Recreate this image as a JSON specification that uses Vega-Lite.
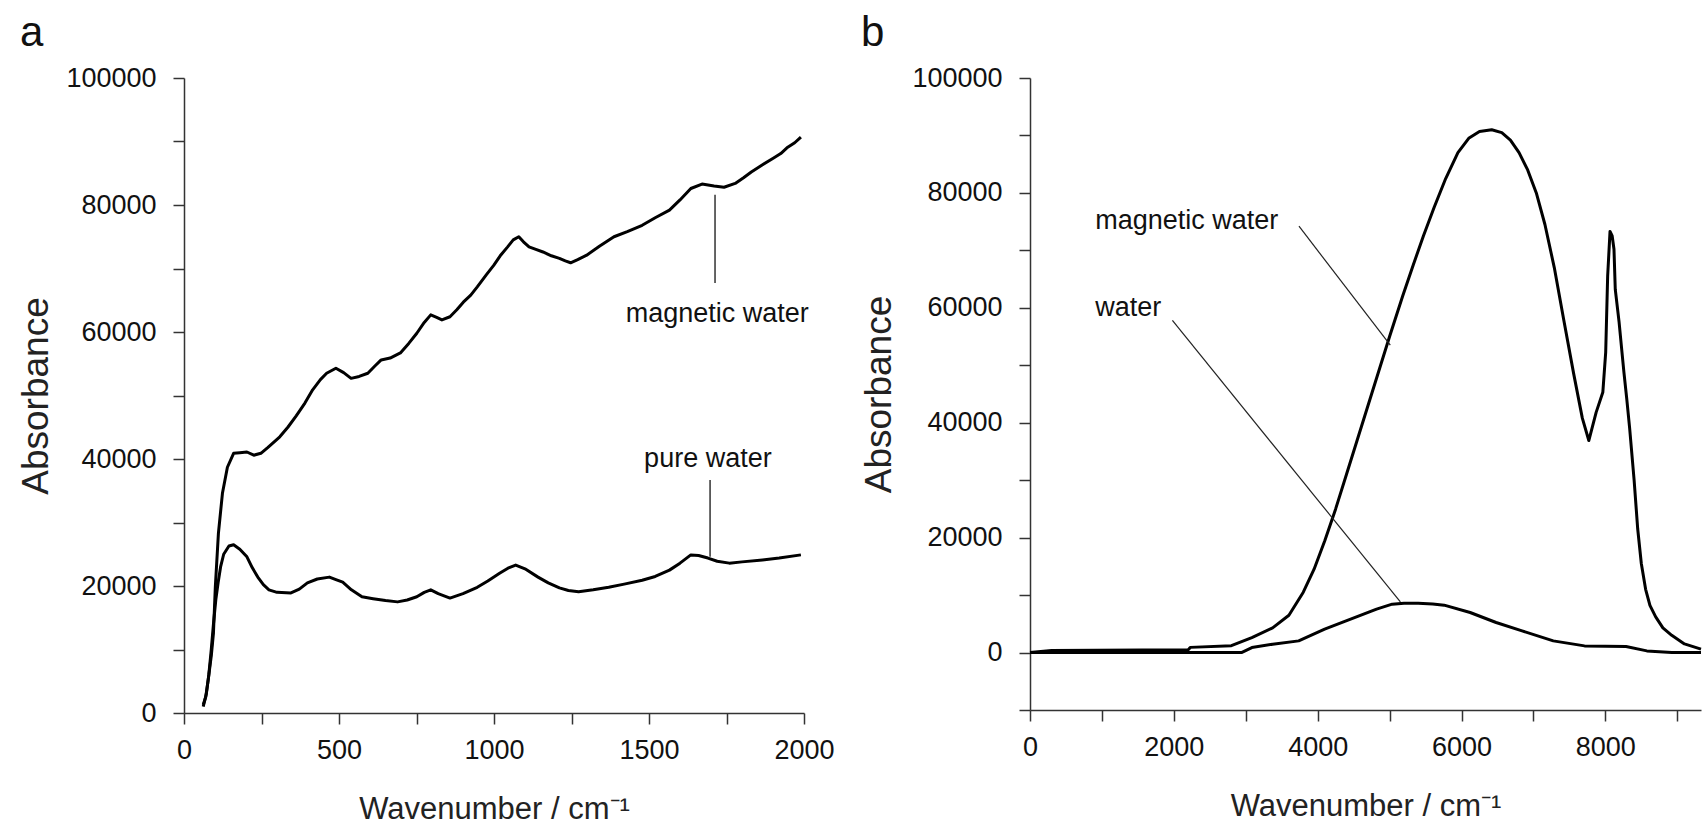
{
  "$schema": "https://vega.github.io/schema/vega-lite/v6.json",
  "background": "white",
  "padding": {"left": 17, "top": 12, "right": 0, "bottom": 0},
  "config": {
    "view": {"stroke": null},
    "font": "Liberation Sans",
    "axis": {
      "grid": false,
      "domainColor": "#333",
      "tickColor": "#333",
      "domainWidth": 1.5,
      "tickWidth": 1.5,
      "tickSize": 11,
      "labelFont": "Liberation Sans",
      "labelFontSize": 27,
      "labelColor": "#111",
      "labelFlush": false,
      "labelOverlap": false,
      "labelBound": false,
      "titleFont": "Liberation Sans",
      "titleFontWeight": "normal",
      "titleColor": "#222"
    },
    "axisX": {"labelPadding": 13, "titleFontSize": 31, "titlePadding": 31},
    "axisY": {"labelPadding": 17, "titleFontSize": 37, "titlePadding": 13},
    "title": {"font": "Liberation Sans", "fontSize": 42, "fontWeight": "normal", "anchor": "start", "frame": "bounds", "color": "#111"}
  },
  "datasets": {
    "a_curves": [
      {"s": "magnetic", "x": 62, "y": 1300}, {"s": "magnetic", "x": 70, "y": 2500}, {"s": "magnetic", "x": 78, "y": 5200}, {"s": "magnetic", "x": 88, "y": 9000}, {"s": "magnetic", "x": 95, "y": 12600}, {"s": "magnetic", "x": 101, "y": 19800}, {"s": "magnetic", "x": 111, "y": 28300}, {"s": "magnetic", "x": 124, "y": 34600}, {"s": "magnetic", "x": 140, "y": 38700}, {"s": "magnetic", "x": 160, "y": 40900}, {"s": "magnetic", "x": 180, "y": 41000}, {"s": "magnetic", "x": 203, "y": 41100}, {"s": "magnetic", "x": 225, "y": 40600}, {"s": "magnetic", "x": 248, "y": 40900}, {"s": "magnetic", "x": 270, "y": 41800}, {"s": "magnetic", "x": 309, "y": 43500}, {"s": "magnetic", "x": 335, "y": 45000}, {"s": "magnetic", "x": 362, "y": 46800}, {"s": "magnetic", "x": 390, "y": 48800}, {"s": "magnetic", "x": 415, "y": 50900}, {"s": "magnetic", "x": 440, "y": 52500}, {"s": "magnetic", "x": 460, "y": 53500}, {"s": "magnetic", "x": 490, "y": 54300}, {"s": "magnetic", "x": 515, "y": 53600}, {"s": "magnetic", "x": 539, "y": 52700}, {"s": "magnetic", "x": 565, "y": 53000}, {"s": "magnetic", "x": 593, "y": 53500}, {"s": "magnetic", "x": 615, "y": 54600}, {"s": "magnetic", "x": 636, "y": 55600}, {"s": "magnetic", "x": 665, "y": 55900}, {"s": "magnetic", "x": 698, "y": 56700}, {"s": "magnetic", "x": 725, "y": 58200}, {"s": "magnetic", "x": 751, "y": 59800}, {"s": "magnetic", "x": 775, "y": 61500}, {"s": "magnetic", "x": 796, "y": 62700}, {"s": "magnetic", "x": 815, "y": 62300}, {"s": "magnetic", "x": 832, "y": 61900}, {"s": "magnetic", "x": 858, "y": 62400}, {"s": "magnetic", "x": 880, "y": 63500}, {"s": "magnetic", "x": 901, "y": 64700}, {"s": "magnetic", "x": 925, "y": 65800}, {"s": "magnetic", "x": 946, "y": 67100}, {"s": "magnetic", "x": 975, "y": 69000}, {"s": "magnetic", "x": 999, "y": 70500}, {"s": "magnetic", "x": 1020, "y": 72000}, {"s": "magnetic", "x": 1044, "y": 73400}, {"s": "magnetic", "x": 1062, "y": 74500}, {"s": "magnetic", "x": 1080, "y": 75000}, {"s": "magnetic", "x": 1095, "y": 74200}, {"s": "magnetic", "x": 1113, "y": 73400}, {"s": "magnetic", "x": 1135, "y": 73000}, {"s": "magnetic", "x": 1158, "y": 72600}, {"s": "magnetic", "x": 1185, "y": 72000}, {"s": "magnetic", "x": 1211, "y": 71600}, {"s": "magnetic", "x": 1230, "y": 71200}, {"s": "magnetic", "x": 1247, "y": 70900}, {"s": "magnetic", "x": 1270, "y": 71400}, {"s": "magnetic", "x": 1299, "y": 72100}, {"s": "magnetic", "x": 1340, "y": 73500}, {"s": "magnetic", "x": 1387, "y": 75000}, {"s": "magnetic", "x": 1430, "y": 75800}, {"s": "magnetic", "x": 1478, "y": 76800}, {"s": "magnetic", "x": 1520, "y": 78000}, {"s": "magnetic", "x": 1566, "y": 79200}, {"s": "magnetic", "x": 1600, "y": 80800}, {"s": "magnetic", "x": 1635, "y": 82600}, {"s": "magnetic", "x": 1671, "y": 83300}, {"s": "magnetic", "x": 1710, "y": 83000}, {"s": "magnetic", "x": 1742, "y": 82800}, {"s": "magnetic", "x": 1778, "y": 83400}, {"s": "magnetic", "x": 1805, "y": 84300}, {"s": "magnetic", "x": 1830, "y": 85200}, {"s": "magnetic", "x": 1865, "y": 86300}, {"s": "magnetic", "x": 1902, "y": 87400}, {"s": "magnetic", "x": 1925, "y": 88100}, {"s": "magnetic", "x": 1945, "y": 89000}, {"s": "magnetic", "x": 1970, "y": 89800}, {"s": "magnetic", "x": 1990, "y": 90700},
      {"s": "pure", "x": 62, "y": 1000}, {"s": "pure", "x": 72, "y": 3000}, {"s": "pure", "x": 80, "y": 6000}, {"s": "pure", "x": 88, "y": 10000}, {"s": "pure", "x": 95, "y": 14000}, {"s": "pure", "x": 103, "y": 18000}, {"s": "pure", "x": 110, "y": 20500}, {"s": "pure", "x": 118, "y": 23000}, {"s": "pure", "x": 128, "y": 25000}, {"s": "pure", "x": 145, "y": 26300}, {"s": "pure", "x": 160, "y": 26500}, {"s": "pure", "x": 180, "y": 25800}, {"s": "pure", "x": 203, "y": 24600}, {"s": "pure", "x": 220, "y": 22900}, {"s": "pure", "x": 238, "y": 21400}, {"s": "pure", "x": 256, "y": 20200}, {"s": "pure", "x": 274, "y": 19400}, {"s": "pure", "x": 300, "y": 19000}, {"s": "pure", "x": 345, "y": 18900}, {"s": "pure", "x": 372, "y": 19500}, {"s": "pure", "x": 398, "y": 20500}, {"s": "pure", "x": 430, "y": 21100}, {"s": "pure", "x": 469, "y": 21400}, {"s": "pure", "x": 490, "y": 21000}, {"s": "pure", "x": 512, "y": 20600}, {"s": "pure", "x": 540, "y": 19400}, {"s": "pure", "x": 574, "y": 18300}, {"s": "pure", "x": 610, "y": 18000}, {"s": "pure", "x": 650, "y": 17700}, {"s": "pure", "x": 689, "y": 17500}, {"s": "pure", "x": 720, "y": 17800}, {"s": "pure", "x": 751, "y": 18300}, {"s": "pure", "x": 775, "y": 19000}, {"s": "pure", "x": 796, "y": 19400}, {"s": "pure", "x": 820, "y": 18800}, {"s": "pure", "x": 858, "y": 18100}, {"s": "pure", "x": 900, "y": 18800}, {"s": "pure", "x": 946, "y": 19800}, {"s": "pure", "x": 980, "y": 20800}, {"s": "pure", "x": 1018, "y": 22000}, {"s": "pure", "x": 1045, "y": 22800}, {"s": "pure", "x": 1070, "y": 23300}, {"s": "pure", "x": 1100, "y": 22700}, {"s": "pure", "x": 1142, "y": 21400}, {"s": "pure", "x": 1175, "y": 20500}, {"s": "pure", "x": 1211, "y": 19700}, {"s": "pure", "x": 1240, "y": 19300}, {"s": "pure", "x": 1273, "y": 19100}, {"s": "pure", "x": 1320, "y": 19400}, {"s": "pure", "x": 1370, "y": 19800}, {"s": "pure", "x": 1420, "y": 20300}, {"s": "pure", "x": 1478, "y": 20900}, {"s": "pure", "x": 1520, "y": 21500}, {"s": "pure", "x": 1566, "y": 22500}, {"s": "pure", "x": 1600, "y": 23600}, {"s": "pure", "x": 1635, "y": 24900}, {"s": "pure", "x": 1660, "y": 24800}, {"s": "pure", "x": 1690, "y": 24400}, {"s": "pure", "x": 1720, "y": 23900}, {"s": "pure", "x": 1759, "y": 23600}, {"s": "pure", "x": 1800, "y": 23800}, {"s": "pure", "x": 1866, "y": 24100}, {"s": "pure", "x": 1920, "y": 24400}, {"s": "pure", "x": 1990, "y": 24900}
    ],
    "a_rules": [
      {"x": 1713, "y": 81600, "y2": 67700},
      {"x": 1697, "y": 36700, "y2": 24600}
    ],
    "a_labels": [
      {"x": 1720, "y": 61600, "label": "magnetic water"},
      {"x": 1690, "y": 38700, "label": "pure water"}
    ],
    "b_curves": [
      {"s": "magnetic", "x": 0, "y": 0}, {"s": "magnetic", "x": 300, "y": 350}, {"s": "magnetic", "x": 2200, "y": 500}, {"s": "magnetic", "x": 2230, "y": 900}, {"s": "magnetic", "x": 2800, "y": 1200}, {"s": "magnetic", "x": 3085, "y": 2600}, {"s": "magnetic", "x": 3374, "y": 4300}, {"s": "magnetic", "x": 3600, "y": 6500}, {"s": "magnetic", "x": 3800, "y": 10500}, {"s": "magnetic", "x": 3950, "y": 14500}, {"s": "magnetic", "x": 4100, "y": 19500}, {"s": "magnetic", "x": 4250, "y": 25000}, {"s": "magnetic", "x": 4400, "y": 31000}, {"s": "magnetic", "x": 4550, "y": 37000}, {"s": "magnetic", "x": 4700, "y": 43000}, {"s": "magnetic", "x": 4850, "y": 49000}, {"s": "magnetic", "x": 5000, "y": 55000}, {"s": "magnetic", "x": 5181, "y": 62000}, {"s": "magnetic", "x": 5330, "y": 67500}, {"s": "magnetic", "x": 5470, "y": 72500}, {"s": "magnetic", "x": 5620, "y": 77500}, {"s": "magnetic", "x": 5780, "y": 82500}, {"s": "magnetic", "x": 5950, "y": 87000}, {"s": "magnetic", "x": 6100, "y": 89500}, {"s": "magnetic", "x": 6250, "y": 90700}, {"s": "magnetic", "x": 6420, "y": 91000}, {"s": "magnetic", "x": 6560, "y": 90500}, {"s": "magnetic", "x": 6680, "y": 89200}, {"s": "magnetic", "x": 6800, "y": 87000}, {"s": "magnetic", "x": 6920, "y": 84000}, {"s": "magnetic", "x": 7040, "y": 80000}, {"s": "magnetic", "x": 7160, "y": 74500}, {"s": "magnetic", "x": 7290, "y": 67000}, {"s": "magnetic", "x": 7420, "y": 58000}, {"s": "magnetic", "x": 7560, "y": 48500}, {"s": "magnetic", "x": 7680, "y": 40800}, {"s": "magnetic", "x": 7770, "y": 36900}, {"s": "magnetic", "x": 7872, "y": 41800}, {"s": "magnetic", "x": 7965, "y": 45300}, {"s": "magnetic", "x": 8005, "y": 52300}, {"s": "magnetic", "x": 8032, "y": 65500}, {"s": "magnetic", "x": 8065, "y": 73300}, {"s": "magnetic", "x": 8095, "y": 72500}, {"s": "magnetic", "x": 8120, "y": 70200}, {"s": "magnetic", "x": 8138, "y": 63200}, {"s": "magnetic", "x": 8191, "y": 57500}, {"s": "magnetic", "x": 8231, "y": 52300}, {"s": "magnetic", "x": 8258, "y": 48800}, {"s": "magnetic", "x": 8298, "y": 44100}, {"s": "magnetic", "x": 8338, "y": 39000}, {"s": "magnetic", "x": 8400, "y": 30000}, {"s": "magnetic", "x": 8450, "y": 21500}, {"s": "magnetic", "x": 8500, "y": 15500}, {"s": "magnetic", "x": 8560, "y": 11000}, {"s": "magnetic", "x": 8620, "y": 8200}, {"s": "magnetic", "x": 8700, "y": 6200}, {"s": "magnetic", "x": 8800, "y": 4300}, {"s": "magnetic", "x": 8923, "y": 3000}, {"s": "magnetic", "x": 9100, "y": 1500}, {"s": "magnetic", "x": 9330, "y": 600},
      {"s": "water", "x": 0, "y": 0}, {"s": "water", "x": 2940, "y": 0}, {"s": "water", "x": 3085, "y": 870}, {"s": "water", "x": 3374, "y": 1450}, {"s": "water", "x": 3736, "y": 2030}, {"s": "water", "x": 4097, "y": 4060}, {"s": "water", "x": 4458, "y": 5800}, {"s": "water", "x": 4819, "y": 7550}, {"s": "water", "x": 5036, "y": 8420}, {"s": "water", "x": 5200, "y": 8600}, {"s": "water", "x": 5397, "y": 8600}, {"s": "water", "x": 5600, "y": 8450}, {"s": "water", "x": 5759, "y": 8250}, {"s": "water", "x": 6120, "y": 6970}, {"s": "water", "x": 6481, "y": 5230}, {"s": "water", "x": 6842, "y": 3770}, {"s": "water", "x": 7276, "y": 2030}, {"s": "water", "x": 7710, "y": 1160}, {"s": "water", "x": 8288, "y": 1050}, {"s": "water", "x": 8577, "y": 290}, {"s": "water", "x": 8923, "y": 0}, {"s": "water", "x": 9330, "y": 0}
    ],
    "b_rules": [
      {"x": 3740, "y": 74200, "x2": 5010, "y2": 53500},
      {"x": 1980, "y": 57800, "x2": 5150, "y2": 8800}
    ],
    "b_labels": [
      {"x": 906, "y": 73700, "label": "magnetic water"},
      {"x": 906, "y": 58500, "label": "water"}
    ]
  },
  "hconcat": [
    {
      "width": 620,
      "height": 635,
      "title": {"text": "a", "offset": 9, "dx": 2},
      "encoding": {
        "x": {"field": "x", "type": "quantitative", "scale": {"domain": [0, 2000], "nice": false, "zero": false},
              "axis": {"title": "Wavenumber / cm⁻¹", "values": [0, 250, 500, 750, 1000, 1250, 1500, 1750, 2000], "format": "d", "labelExpr": "datum.value % 500 == 0 ? datum.label : ''"}},
        "y": {"field": "y", "type": "quantitative", "scale": {"domain": [0, 100000], "nice": false, "zero": false},
              "axis": {"title": "Absorbance", "titlePadding": 10, "values": [0, 10000, 20000, 30000, 40000, 50000, 60000, 70000, 80000, 90000, 100000], "format": "d", "labelExpr": "datum.value % 20000 == 0 ? datum.label : ''"}}
      },
      "layer": [
        {"data": {"name": "a_curves"}, "mark": {"type": "line", "color": "#000", "strokeWidth": 3, "strokeJoin": "round"}, "encoding": {"detail": {"field": "s"}}},
        {"data": {"name": "a_rules"}, "mark": {"type": "rule", "color": "#333", "strokeWidth": 1.5}, "encoding": {"y2": {"field": "y2"}}},
        {"data": {"name": "a_labels"}, "mark": {"type": "text", "font": "Liberation Sans", "fontSize": 27, "align": "center", "baseline": "alphabetic", "color": "#111"}, "encoding": {"text": {"field": "label"}}}
      ]
    },
    {
      "width": 671,
      "height": 632,
      "title": {"text": "b", "offset": 9, "dx": 0},
      "encoding": {
        "x": {"field": "x", "type": "quantitative", "scale": {"domain": [0, 9330], "nice": false, "zero": false},
              "axis": {"title": "Wavenumber / cm⁻¹", "values": [0, 1000, 2000, 3000, 4000, 5000, 6000, 7000, 8000, 9000], "format": "d", "labelExpr": "datum.value % 2000 == 0 ? datum.label : ''"}},
        "y": {"field": "y", "type": "quantitative", "scale": {"domain": [-10000, 100000], "nice": false, "zero": false},
              "axis": {"title": "Absorbance", "values": [-10000, 0, 10000, 20000, 30000, 40000, 50000, 60000, 70000, 80000, 90000, 100000], "format": "d", "labelExpr": "datum.value % 20000 == 0 ? datum.label : ''"}}
      },
      "layer": [
        {"data": {"name": "b_curves"}, "mark": {"type": "line", "color": "#000", "strokeWidth": 3, "strokeJoin": "round"}, "encoding": {"detail": {"field": "s"}}},
        {"data": {"name": "b_rules"}, "mark": {"type": "rule", "color": "#222", "strokeWidth": 1.2}, "encoding": {"x2": {"field": "x2"}, "y2": {"field": "y2"}}},
        {"data": {"name": "b_labels"}, "mark": {"type": "text", "font": "Liberation Sans", "fontSize": 27, "align": "left", "baseline": "alphabetic", "color": "#111"}, "encoding": {"text": {"field": "label"}}}
      ]
    }
  ],
  "spacing": 25
}
